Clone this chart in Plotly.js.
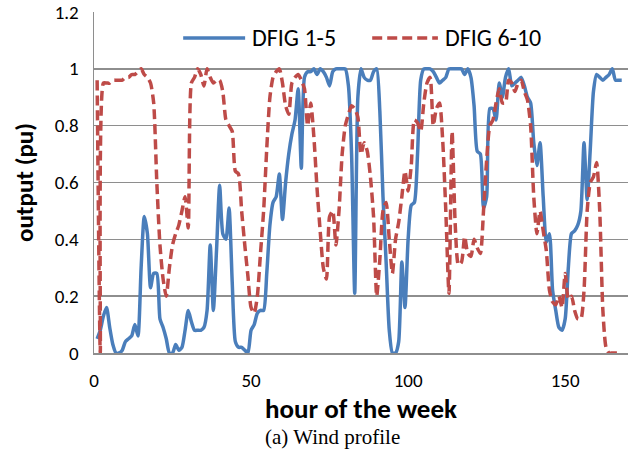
<!DOCTYPE html>
<html>
<head>
<meta charset="utf-8">
<script src="https://cdn.plot.ly/plotly-3.0.1.min.js"></script>
<style>
  html, body { margin: 0; padding: 0; background: #ffffff; }
  #chart { width: 637px; height: 454px; }
</style>
</head>
<body>
<div id="chart"></div>
<script>
// Hourly output (pu), hours 1..168
const dfig1to5 = [
  0.05, 0.08, 0.13, 0.16, 0.09, 0.03, 0.00, 0.00, 0.01, 0.04,
  0.05, 0.06, 0.10, 0.06, 0.30, 0.48, 0.42, 0.23, 0.28, 0.28,
  0.12, 0.09, 0.05, 0.00, 0.00, 0.03, 0.01, 0.02, 0.08, 0.15,
  0.11, 0.08, 0.08, 0.08, 0.09, 0.15, 0.38, 0.15, 0.36, 0.59,
  0.42, 0.40, 0.51, 0.25, 0.04, 0.02, 0.02, 0.01, 0.00, 0.08,
  0.10, 0.14, 0.15, 0.15, 0.28, 0.45, 0.53, 0.55, 0.63, 0.47,
  0.60, 0.70, 0.77, 0.82, 0.93, 0.65, 0.97, 0.99, 0.99, 1.00,
  0.98, 1.00, 0.99, 0.97, 0.94, 0.99, 1.00, 1.00, 1.00, 1.00,
  0.94, 0.70, 0.21, 0.90, 1.00, 0.97, 0.96, 0.96, 0.99, 1.00,
  0.85, 0.55, 0.32, 0.08, 0.00, 0.00, 0.04, 0.32, 0.16, 0.40,
  0.52, 0.53, 0.70, 0.96, 1.00, 1.00, 1.00, 0.99, 0.97, 0.95,
  0.96, 0.97, 1.00, 1.00, 1.00, 1.00, 1.00, 0.98, 1.00, 0.97,
  0.87, 0.71, 0.70, 0.51, 0.55, 0.86, 0.86, 0.82, 0.95, 0.90,
  0.97, 1.00, 0.94, 0.95, 0.96, 0.97, 0.94, 0.90, 0.88, 0.74,
  0.66, 0.74, 0.55, 0.39, 0.42, 0.22, 0.15, 0.09, 0.08, 0.12,
  0.30, 0.42, 0.43, 0.45, 0.50, 0.74, 0.54, 0.72, 0.92, 0.98,
  0.97, 0.96, 0.97, 0.98, 1.00, 0.96, 0.96, 0.96
];
const dfig6to10 = [
  0.96, 0.00, 0.95, 0.95, 0.95, 0.96, 0.96, 0.96, 0.96, 0.97,
  0.97, 0.98, 0.98, 0.99, 1.00, 0.98, 0.97, 0.95, 0.88, 0.60,
  0.38, 0.26, 0.20, 0.30, 0.38, 0.42, 0.45, 0.50, 0.55, 0.44,
  0.95, 0.97, 1.00, 0.98, 0.94, 1.00, 0.97, 0.95, 0.96, 0.96,
  0.92, 0.82, 0.80, 0.78, 0.64, 0.63, 0.50, 0.38, 0.27, 0.16,
  0.14, 0.20, 0.35, 0.50, 0.72, 0.90, 0.97, 0.99, 1.00, 0.95,
  0.87, 0.84, 0.95, 0.97, 0.98, 0.96, 0.93, 0.80, 0.88, 0.76,
  0.58, 0.43, 0.30, 0.26, 0.48, 0.50, 0.38, 0.50, 0.70, 0.80,
  0.84, 0.87, 0.86, 0.83, 0.70, 0.74, 0.71, 0.62, 0.48, 0.20,
  0.33, 0.50, 0.53, 0.40, 0.28, 0.40, 0.46, 0.55, 0.64, 0.57,
  0.66, 0.82, 0.81, 0.78, 0.88, 0.95, 0.97, 0.80, 0.86, 0.88,
  0.75, 0.50, 0.21, 0.78, 0.45, 0.31, 0.32, 0.41, 0.35, 0.34,
  0.40, 0.37, 0.35, 0.50, 0.68, 0.80, 0.82, 0.88, 0.93, 0.88,
  0.88, 0.96, 0.95, 0.92, 0.95, 0.96, 0.92, 0.89, 0.80, 0.55,
  0.42, 0.50, 0.43, 0.36, 0.22, 0.18, 0.17, 0.20, 0.16, 0.28,
  0.19, 0.20, 0.15, 0.12, 0.12, 0.22, 0.50, 0.60, 0.62, 0.67,
  0.50, 0.15, 0.02, 0.00, 0.00, 0.00, 0.00, 0.00
];
const hours = dfig1to5.map((_, i) => i + 1);
const seriesNames = ["DFIG 1-5", "DFIG 6-10"];
const xTicks = [0, 50, 100, 150];
const yTicks = [0, 0.2, 0.4, 0.6, 0.8, 1, 1.2];

const BLUE = "#4a7ebb";
const RED = "#be4b48";
const GRID = "#8e8e8e";
const SANS = "Carlito, Lato, 'Liberation Sans', sans-serif";

const traces = [
  { x: hours, y: dfig1to5, name: seriesNames[0], type: "scatter", mode: "lines",
    line: { color: BLUE, width: 3.5, shape: "spline", smoothing: 0.6 } },
  { x: hours, y: dfig6to10, name: seriesNames[1], type: "scatter", mode: "lines",
    line: { color: RED, width: 3.5, dash: "10px,5px", shape: "spline", smoothing: 0.6 } }
];

const legY = 0.924;
const layout = {
  width: 637, height: 454,
  margin: { l: 94, r: 9, t: 12, b: 101 },
  paper_bgcolor: "#ffffff", plot_bgcolor: "#ffffff",
  showlegend: false,
  font: { family: SANS, color: "#000000", size: 19 },
  xaxis: {
    range: [0, 170], tickvals: xTicks, ticktext: xTicks.map(String),
    showgrid: false, zeroline: false, showline: true, linecolor: GRID, linewidth: 1.5,
    ticks: "", ticklabelstandoff: 10, tickfont: { family: SANS, size: 19 },
    title: { text: "<b>hour of the week</b>", font: { family: SANS, size: 27 }, standoff: 3 }
  },
  yaxis: {
    range: [0, 1.2], tickvals: yTicks, ticktext: yTicks.map(String),
    showgrid: true, gridcolor: GRID, gridwidth: 1.5,
    zeroline: false, showline: true, linecolor: GRID, linewidth: 1.5,
    ticks: "", ticklabelstandoff: 10, tickfont: { family: SANS, size: 19 },
    title: { text: "<b>output (pu)</b>", font: { family: SANS, size: 25 }, standoff: 14 }
  },
  shapes: [
    { type: "line", xref: "paper", yref: "paper", x0: 0.167, x1: 0.283, y0: legY, y1: legY,
      line: { color: BLUE, width: 3.5 } },
    { type: "line", xref: "paper", yref: "paper", x0: 0.521, x1: 0.644, y0: legY, y1: legY,
      line: { color: RED, width: 3.5, dash: "10px,5px" } }
  ],
  annotations: [
    { xref: "paper", yref: "paper", x: 0.293, y: legY, xanchor: "left", yanchor: "middle",
      text: seriesNames[0], showarrow: false, font: { family: SANS, size: 24 } },
    { xref: "paper", yref: "paper", x: 0.654, y: legY, xanchor: "left", yanchor: "middle",
      text: seriesNames[1], showarrow: false, font: { family: SANS, size: 24 } },
    { xref: "paper", yref: "paper", x: 0.447, y: -0.247, xanchor: "center", yanchor: "middle",
      text: "(a) Wind profile", showarrow: false,
      font: { family: "'Liberation Serif', 'Times New Roman', serif", size: 21 } }
  ]
};

Plotly.newPlot("chart", traces, layout, { displayModeBar: false, staticPlot: true });
</script>
</body>
</html>
